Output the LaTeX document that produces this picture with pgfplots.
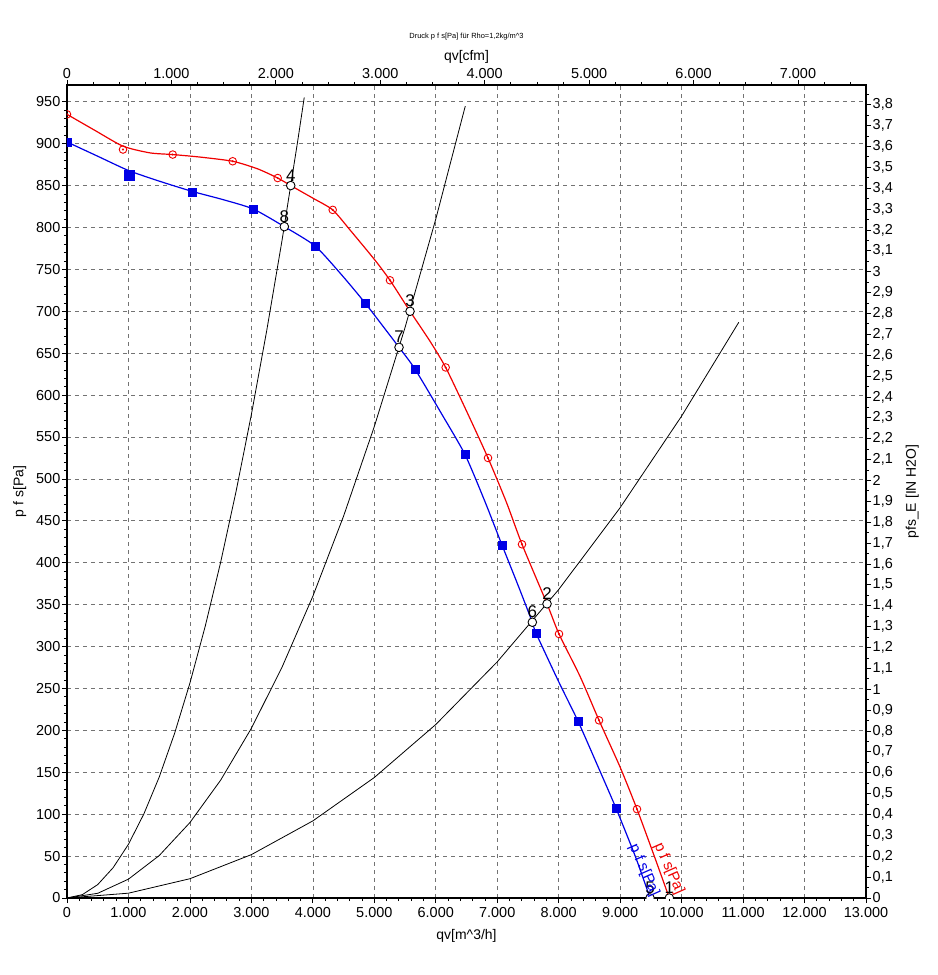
\documentclass[border=0pt]{standalone}
\usepackage{pgfplots}
\pgfplotsset{compat=1.18}
\usepackage{fontspec}
\setmainfont{Liberation Sans}
\definecolor{cred}{RGB}{240,0,0}
\definecolor{cblue}{RGB}{0,0,230}
\pgfplotsset{
  common/.style={
    at={(0,0)}, anchor=south west,
    width=799bp, height=813bp, scale only axis,
    scaled ticks=false,
    tick align=outside,
    major tick length=5bp, minor tick length=3bp,
    every tick/.style={black, line width=0.8bp},
    axis line style={black, line width=1.8bp},
    ticklabel style={font=\fontsize{14.5}{16}\selectfont, inner sep=1.5bp},
    label style={font=\fontsize{14}{16}\selectfont},
    /pgf/number format/.cd, assume math mode=true, 1000 sep={.}, set decimal separator={{,}},
  },
}
\begin{document}
\begin{tikzpicture}[x=1bp,y=1bp]
\path[use as bounding box] (-67,-77) rectangle (871,898);
% main axis
\begin{axis}[common,
  xmin=0, xmax=13000, ymin=0, ymax=970,
  xtick distance=1000, ytick distance=50,
  minor x tick num=4, minor y tick num=4,
  tick pos=left,
  grid=major,
  major grid style={black!55, dash pattern=on 4bp off 4bp, line width=0.7bp},
  xlabel={qv[m\textasciicircum 3/h]},
  ylabel={p f s[Pa]},
  xticklabel style={yshift=-3bp},
  xlabel style={yshift=-6bp},
  ylabel style={yshift=5bp},
  title={Druck p f s[Pa] für Rho=1,2kg/m\textasciicircum 3},
  title style={font=\fontsize{7.5}{8}\selectfont, at={(0.5,1)}, anchor=center, yshift=42bp},
  clip marker paths=true,
]
% system curves
\addplot[black, line width=0.8bp] coordinates {(0,0) (250,4.0) (500,16.0) (750,36.1) (1000,64.1) (1250,100.2) (1500,144.2) (1750,196.3) (2000,256.4) (2250,324.5) (2500,400.6) (2750,484.8) (3000,576.9) (3250,677.1) (3500,785.2) (3750,901.4) (3860,955.1)};
\addplot[black, line width=0.8bp] coordinates {(0,0) (500,5.6) (1000,22.5) (1500,50.6) (2000,90) (2500,140.6) (3000,202.5) (3500,275.6) (4000,360) (4500,455.6) (5000,562.5) (5500,680.6) (6000,810) (6480,944.8)};
\addplot[black, line width=0.8bp] coordinates {(0,0) (1000,5.75) (2000,23) (3000,51.75) (4000,92) (5000,143.75) (6000,207) (7000,281.75) (8000,368) (9000,465.75) (10000,575) (10930,686.9)};
% red curve
\addplot[cred, line width=1.2bp, smooth, tension=0.4] coordinates {(0,935) (450,916) (911,897) (1350,889) (1720,887) (2164,884) (2696,879) (3100,870) (3428,859) (3640,850) (4000,835) (4323,821) (4605,797) (5011,761) (5255,737) (5581,700) (5900,665) (6161,633) (6500,581) (6850,525) (7150,472) (7403,422) (7810,351) (8005,315) (8350,264) (8656,212) (9000,156) (9274,106) (9550,51) (9800,0)};
\addplot[only marks, mark=o, mark size=3.8bp, cred, mark options={line width=0.9bp}] coordinates {(0,935) (911,893) (1720,887) (2696,879) (3428,859) (4323,821) (5255,737) (6161,633) (6850,525) (7403,422) (8005,315) (8656,212) (9274,106)};
\addplot[only marks, mark=*, mark size=0.8bp, cred] coordinates {(0,935) (911,893) (1720,887) (2696,879) (3428,859) (4323,821) (5255,737) (6161,633) (6850,525) (7403,422) (8005,315) (8656,212) (9274,106)};
% blue curve
\addplot[cblue, line width=1.2bp, smooth, tension=0.4] coordinates {(0,902) (500,885) (1000,868) (1513,855) (2039,843) (2550,833) (3031,822) (3536,801) (4035,778) (4450,745) (4849,710) (5402,657) (5662,631) (6100,577) (6476,529) (6800,473) (7078,421) (7350,371) (7571,329) (7631,316) (8000,258) (8314,211) (8650,155) (8933,107) (9250,49) (9486,0)};
\addplot[only marks, mark=square*, mark size=4bp, cblue] coordinates {(0,902) (2039,842) (3031,822) (4035,778) (4849,710) (5662,631) (6476,529) (7078,421) (7631,316) (8314,211) (8933,107)};
\addplot[only marks, mark=square*, mark size=5bp, cblue] coordinates {(1009,862)};
% operating points
\addplot[only marks, mark=*, mark size=4.3bp, mark options={fill=white, draw=black, line width=0.9bp},
  nodes near coords, point meta=explicit symbolic,
  every node near coord/.append style={anchor=south, inner sep=0.5bp, yshift=3.5bp, black, font=\fontsize{17}{17}\selectfont}]
  table[meta=lab] {
x y lab
9800 0 1
7810 351 2
5581 700 3
3640 850 4
9486 0 5
7571 329 6
5402 657 7
3536 801 8
};
\node[cred, rotate=-66, font=\fontsize{15}{15}\selectfont] at (axis cs:9795,35) {p f s[Pa]};
\node[cblue, rotate=-66, font=\fontsize{15}{15}\selectfont] at (axis cs:9388,33) {p f s[Pa]};
\end{axis}
% top axis (cfm)
\begin{axis}[common,
  xmin=0, xmax=7651.5, ymin=0, ymax=1,
  axis x line*=top, hide y axis,
  xtick distance=1000, minor x tick num=3,
  xlabel={qv[cfm]},
]
\end{axis}
% right axis (IN H2O)
\begin{axis}[common,
  xmin=0, xmax=1, ymin=0, ymax=3.8942,
  axis y line*=right, hide x axis,
  ytick distance=0.1, minor y tick num=1,
  ylabel={pfs\_E [IN H2O]},
  ylabel style={yshift=-8bp},
]
\end{axis}
\end{tikzpicture}
\end{document}
